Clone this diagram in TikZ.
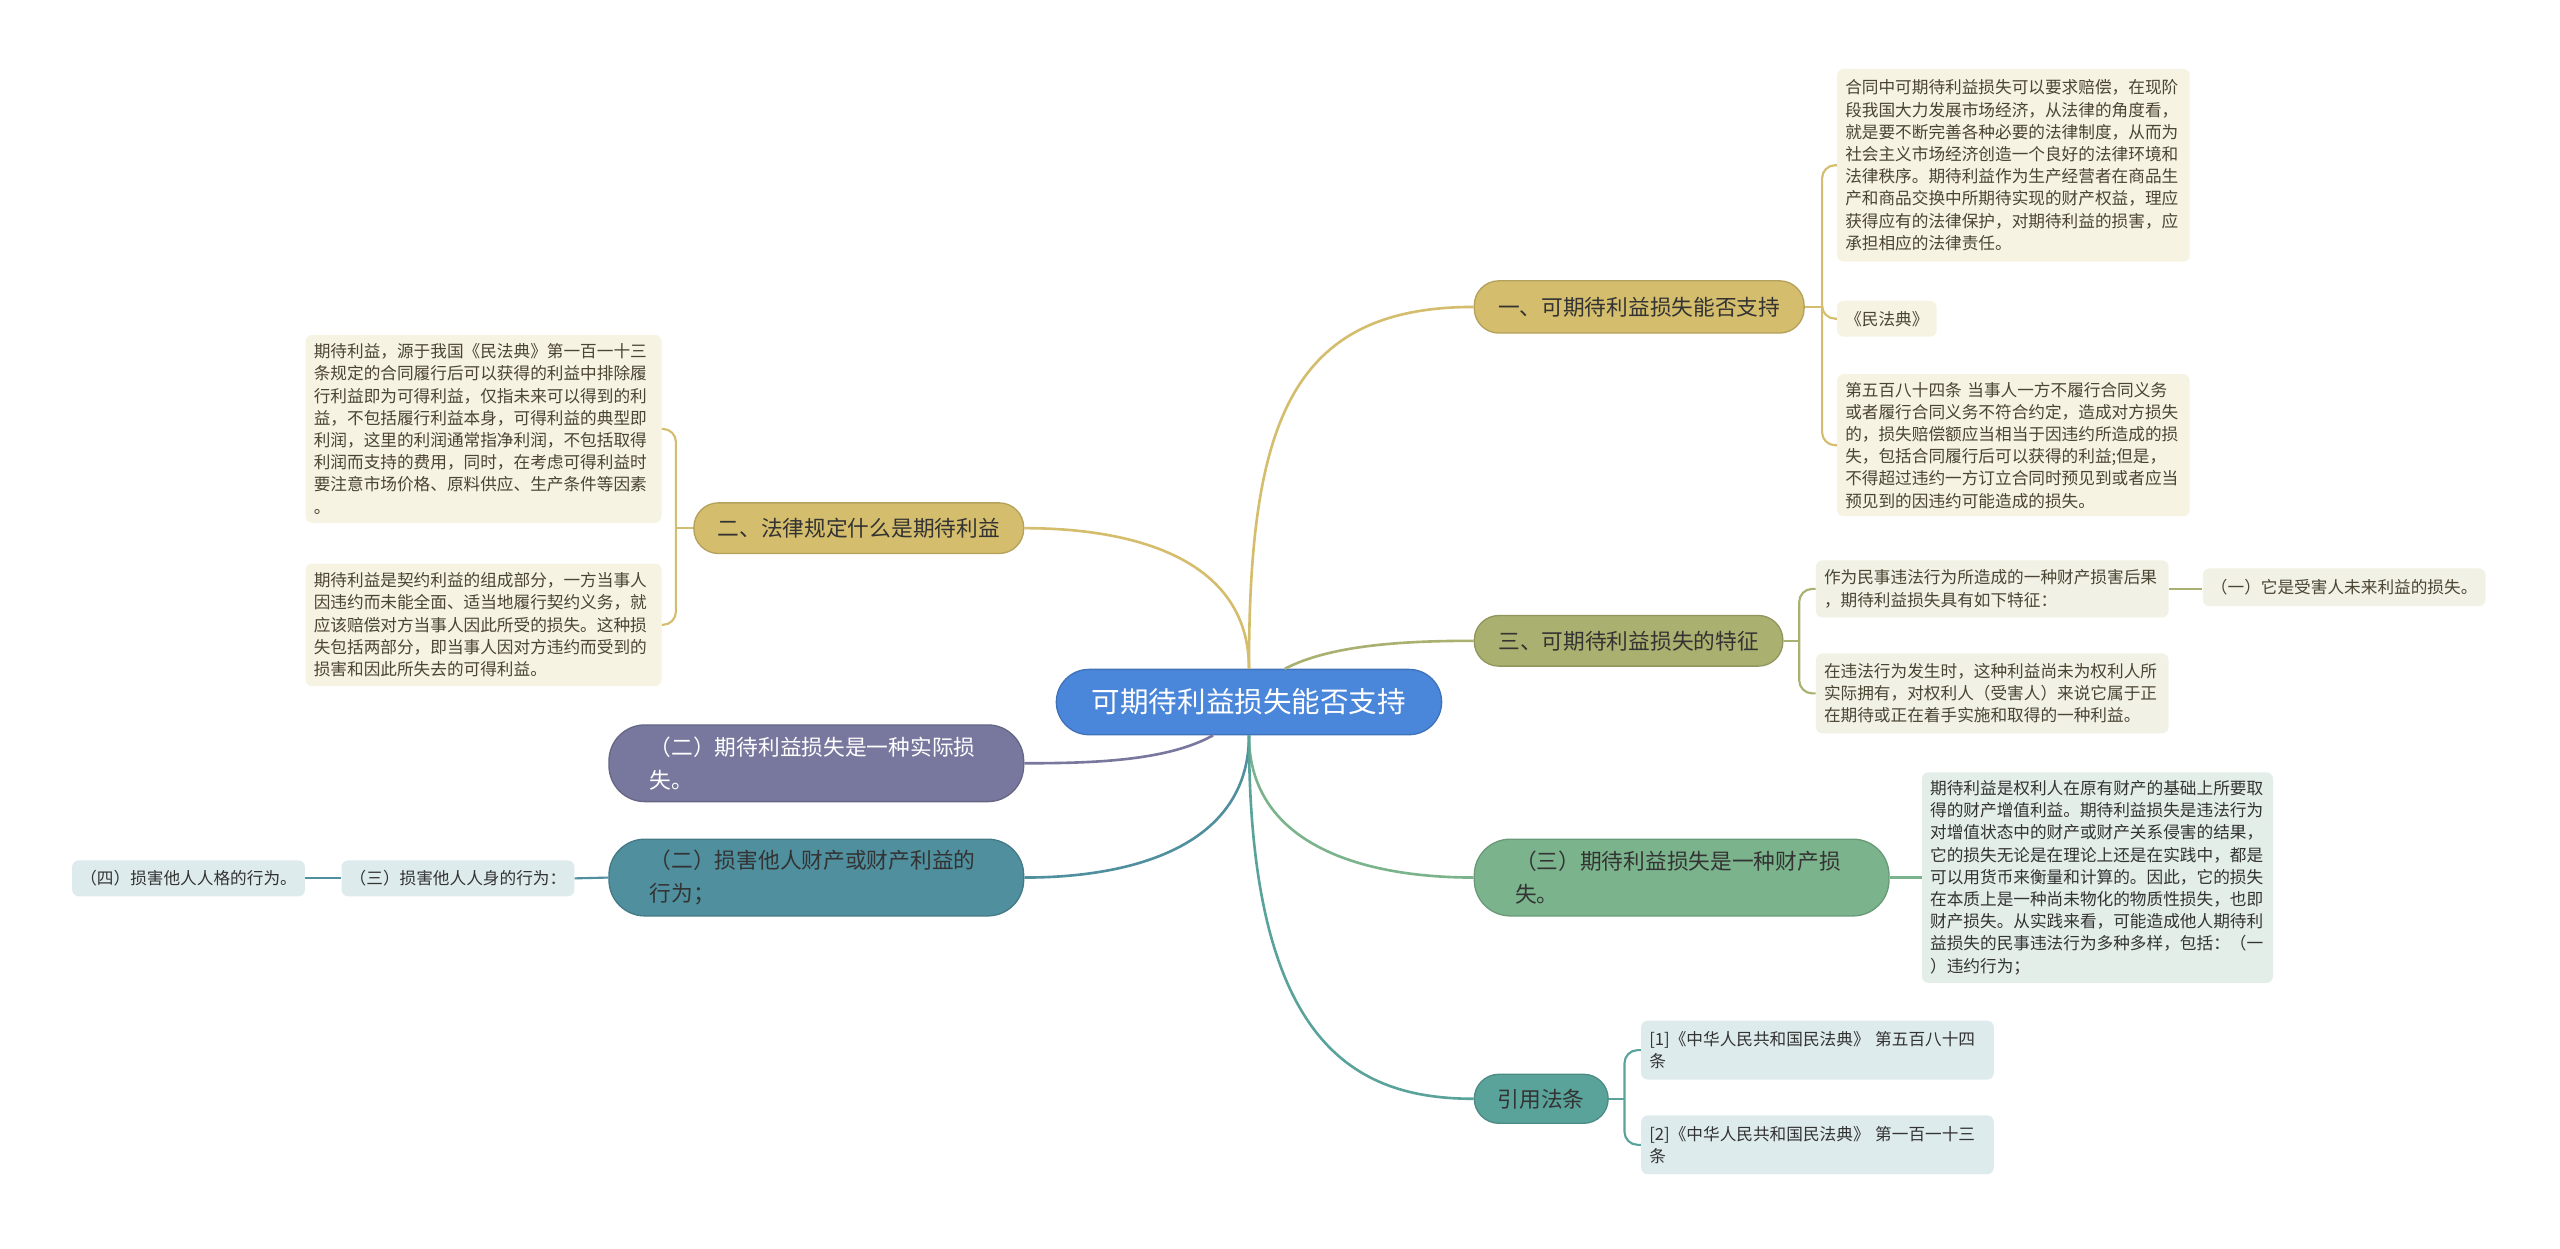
\documentclass[tikz,border=0pt]{standalone}
\usepackage{fontspec}
\setmainfont{Noto Sans CJK SC}
\definecolor{rootblue}{HTML}{4A86D9}
\definecolor{goldc}{HTML}{D4BD6C}
\definecolor{olivec}{HTML}{AAB06F}
\definecolor{purpc}{HTML}{78789E}
\definecolor{tealA}{HTML}{4F8F9E}
\definecolor{greenB}{HTML}{7BB48C}
\definecolor{tealC}{HTML}{5AA39B}
\definecolor{creamleaf}{HTML}{F6F3E3}
\definecolor{oliveleaf}{HTML}{F1F2E5}
\definecolor{greenleaf}{HTML}{E3EEE9}
\definecolor{tealleaf}{HTML}{DEEBEC}
\definecolor{leaftxt}{HTML}{4A4433}
\definecolor{darktxt}{HTML}{333333}
\newcommand\rootfont{\fontsize{17.5}{21}\selectfont}
\newcommand\brfont{\fontsize{13.3}{20}\selectfont}
\newcommand\leaffont{\fontsize{10.2}{13.6}\selectfont}
\tikzset{
  rootnode/.style={inner sep=0pt, rounded corners=20pt, fill=rootblue, draw=rootblue!85!black, line width=0.8pt, text=white, font=\rootfont},
  branch/.style={inner sep=0pt, rounded corners=15pt, line width=0.8pt, text=darktxt, font=\brfont},
  branchtwo/.style={branch, rounded corners=22pt, text width=204pt, align=left, minimum width=254pt, minimum height=47pt},
  leaf/.style={inner xsep=5pt, inner ysep=3pt, rounded corners=4pt, align=left, font=\leaffont, text=leaftxt, anchor=north west},
  link/.style={line width=1.6pt},
  sublink/.style={line width=1.3pt, rounded corners=8pt}
}
\begin{document}
\begin{tikzpicture}[x=1pt,y=-1pt]
\useasboundingbox (0,0) rectangle (1568,765);
\fill[white] (0,0) rectangle (1568,765);

% ---------- root ----------
\node[rootnode, minimum width=236pt, minimum height=40pt] (root) at (765,430) {可期待利益损失能否支持};

% ---------- branches ----------
\node[branch, fill=goldc, draw=goldc!85!black, minimum width=202pt, minimum height=32pt] (b1) at (1004,188) {一、可期待利益损失能否支持};
\node[branch, fill=goldc, draw=goldc!85!black, minimum width=202pt, minimum height=31pt] (b2) at (526,323.5) {二、法律规定什么是期待利益};
\node[branch, fill=olivec, draw=olivec!85!black, minimum width=189pt, minimum height=31pt] (b3) at (997.5,392.5) {三、可期待利益损失的特征};
\node[branchtwo, fill=purpc, draw=purpc!85!black, text=white] (b4) at (500,467.5) {（二）期待利益损失是一种实际损\\失。};
\node[branchtwo, fill=tealA, draw=tealA!85!black] (b5) at (500,537.5) {（二）损害他人财产或财产利益的\\行为；};
\node[branchtwo, fill=greenB, draw=greenB!85!black] (b6) at (1030,537.5) {（三）期待利益损失是一种财产损\\失。};
\node[branch, fill=tealC, draw=tealC!85!black, minimum width=82pt, minimum height=30pt] (b7) at (944,673) {引用法条};

% ---------- leaves of b1 ----------
\node[leaf, fill=creamleaf, text width=206pt, minimum height=118pt] (c1a) at (1125,42) {合同中可期待利益损失可以要求赔偿，在现阶\\段我国大力发展市场经济，从法律的角度看，\\就是要不断完善各种必要的法律制度，从而为\\社会主义市场经济创造一个良好的法律环境和\\法律秩序。期待利益作为生产经营者在商品生\\产和商品交换中所期待实现的财产权益，理应\\获得应有的法律保护，对期待利益的损害，应\\承担相应的法律责任。};
\node[leaf, fill=creamleaf, minimum height=22pt] (c1b) at (1125,184) {《民法典》};
\node[leaf, fill=creamleaf, text width=206pt, minimum height=87pt] (c1c) at (1125,229) {第五百八十四条 当事人一方不履行合同义务\\或者履行合同义务不符合约定，造成对方损失\\的，损失赔偿额应当相当于因违约所造成的损\\失，包括合同履行后可以获得的利益;但是，\\不得超过违约一方订立合同时预见到或者应当\\预见到的因违约可能造成的损失。};

% ---------- leaves of b2 ----------
\node[leaf, fill=creamleaf, text width=208pt, minimum height=115pt] (c2a) at (187,205) {期待利益，源于我国《民法典》第一百一十三\\条规定的合同履行后可以获得的利益中排除履\\行利益即为可得利益，仅指未来可以得到的利\\益，不包括履行利益本身，可得利益的典型即\\利润，这里的利润通常指净利润，不包括取得\\利润而支持的费用，同时，在考虑可得利益时\\要注意市场价格、原料供应、生产条件等因素\\。};
\node[leaf, fill=creamleaf, text width=208pt, minimum height=75pt] (c2b) at (187,345) {期待利益是契约利益的组成部分，一方当事人\\因违约而未能全面、适当地履行契约义务，就\\应该赔偿对方当事人因此所受的损失。这种损\\失包括两部分，即当事人因对方违约而受到的\\损害和因此所失去的可得利益。};

% ---------- leaves of b3 ----------
\node[leaf, fill=oliveleaf, text width=206pt, minimum height=35pt] (c3a) at (1112,343) {作为民事违法行为所造成的一种财产损害后果\\，期待利益损失具有如下特征：};
\node[leaf, fill=oliveleaf, minimum height=23pt] (c3d) at (1349,348) {（一）它是受害人未来利益的损失。};
\node[leaf, fill=oliveleaf, text width=206pt, minimum height=49pt] (c3b) at (1112,400) {在违法行为发生时，这种利益尚未为权利人所\\实际拥有，对权利人（受害人）来说它属于正\\在期待或正在着手实施和取得的一种利益。};

% ---------- leaves of b5 ----------
\node[leaf, fill=tealleaf, text=darktxt, minimum height=22pt, anchor=east] (c5a) at (352,538) {（三）损害他人人身的行为：};
\node[leaf, fill=tealleaf, text=darktxt, minimum height=22pt, anchor=east] (c5b) at (187,538) {（四）损害他人人格的行为。};

% ---------- leaf of b6 ----------
\node[leaf, fill=greenleaf, text=darktxt, text width=205pt, minimum height=129pt, anchor=west] (c6a) at (1177,537.5) {期待利益是权利人在原有财产的基础上所要取\\得的财产增值利益。期待利益损失是违法行为\\对增值状态中的财产或财产关系侵害的结果，\\它的损失无论是在理论上还是在实践中，都是\\可以用货币来衡量和计算的。因此，它的损失\\在本质上是一种尚未物化的物质性损失，也即\\财产损失。从实践来看，可能造成他人期待利\\益损失的民事违法行为多种多样，包括：（一\\）违约行为；};

% ---------- leaves of b7 ----------
\node[leaf, fill=tealleaf, text=darktxt, text width=206pt, minimum height=36pt] (c7a) at (1005,625) {[1]《中华人民共和国民法典》 第五百八十四\\条};
\node[leaf, fill=tealleaf, text=darktxt, text width=206pt, minimum height=36pt] (c7b) at (1005,683) {[2]《中华人民共和国民法典》 第一百一十三\\条};

% ---------- junction points ----------
\coordinate (j1) at (1116,188);
\coordinate (j2) at (414,323.5);
\coordinate (j3) at (1102,392.5);
\coordinate (j7) at (995,673);

% ---------- root connectors ----------
\draw[link, goldc] (root.north) .. controls (765,260) and (790,188) .. (b1.west);
\draw[link, goldc] (root.north) .. controls (765,345) and (700,323.5) .. (b2.east);
\draw[link, olivec] ([xshift=22pt]root.north) .. controls (815,395) and (860,392.5) .. (b3.west);
\draw[link, purpc] ([xshift=-22pt]root.south) .. controls (715,466) and (670,467.5) .. (b4.east);
\draw[link, tealA] (root.south) .. controls (765,515) and (700,537.5) .. (b5.east);
\draw[link, greenB] (root.south) .. controls (765,515) and (830,537.5) .. (b6.west);
\draw[link, tealC] (root.south) .. controls (765,640) and (830,673) .. (b7.west);

% ---------- sub connectors ----------
\draw[sublink, goldc] (b1.east) -- (j1);
\draw[sublink, goldc] (j1) |- (c1a.west);
\draw[sublink, goldc] (j1) |- (c1b.west);
\draw[sublink, goldc] (j1) |- (c1c.west);

\draw[sublink, goldc] (b2.west) -- (j2);
\draw[sublink, goldc] (j2) |- (c2a.east);
\draw[sublink, goldc] (j2) |- (c2b.east);

\draw[sublink, olivec] (b3.east) -- (j3);
\draw[sublink, olivec] (j3) |- (c3a.west);
\draw[sublink, olivec] (j3) |- (c3b.west);
\draw[sublink, olivec] (c3a.east) -- (c3a.east -| c3d.west);

\draw[sublink, tealA] (b5.west) -- (c5a.east);
\draw[sublink, tealA] (c5a.west) -- (c5b.east);

\draw[sublink, greenB] (b6.east) -- (c6a.west);

\draw[sublink, tealC] (b7.east) -- (j7);
\draw[sublink, tealC] (j7) |- (c7a.west);
\draw[sublink, tealC] (j7) |- (c7b.west);
\end{tikzpicture}
\end{document}
